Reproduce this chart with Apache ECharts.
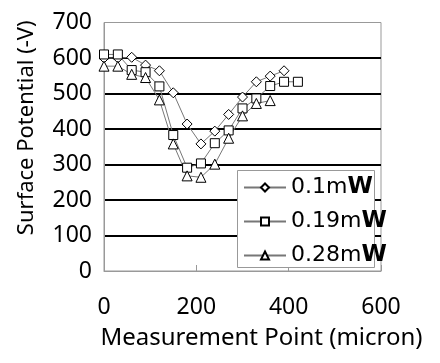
<!DOCTYPE html>
<html>
<head>
<meta charset="utf-8">
<script src="https://cdn.jsdelivr.net/npm/echarts@6/dist/echarts.min.js"></script>
<style>html,body{margin:0;padding:0;background:#fff}#c{width:440px;height:363px}</style>
</head>
<body>
<div id="c"></div>
<script>
var xPoints = [0, 30, 60, 90, 120, 150, 180, 210, 240, 270, 300, 330, 360, 390, 420];
var seriesNames = ['0.1mW', '0.19mW', '0.28mW'];
var vals01 = [600, 600, 602, 580, 564, 502, 414, 358, 394, 441, 490, 533, 549, 564];
var vals019 = [610, 610, 566, 560, 520, 383, 291, 303, 360, 396, 458, 486, 521, 533, 533];
var vals028 = [577, 577, 554, 545, 482, 358, 268, 264, 301, 374, 437, 472, 480];
var xTicks = [0, 200, 400, 600];
var yTicks = [0, 100, 200, 300, 400, 500, 600, 700];

function pairs(v) { return v.map(function (y, i) { return [xPoints[i], y]; }); }
var FONT = 'Noto Sans';
var LFONT = 'DejaVu Sans';
var symbols = ['diamond', 'rect', 'triangle'];
var sizes = [10, 9, 10];
var datas = [vals01, vals019, vals028];

var chart = echarts.init(document.getElementById('c'), null, { renderer: 'canvas' });
chart.setOption({
  animation: false,
  backgroundColor: '#fff',
  grid: { left: 104, right: 59, top: 22.5, bottom: 92, show: true, borderColor: '#999', borderWidth: 1, containLabel: false },
  xAxis: {
    type: 'value', min: xTicks[0], max: xTicks[xTicks.length - 1], interval: 200,
    name: 'Measurement Point (micron)', nameLocation: 'middle', nameGap: 55,
    nameTextStyle: { fontFamily: FONT, fontSize: 24, color: '#000', padding: [0, 0, 0, 38] },
    axisLine: { show: true, lineStyle: { color: '#999', width: 1 } },
    axisTick: { show: true, inside: true, length: 6, lineStyle: { color: '#999' } },
    axisLabel: { fontFamily: FONT, fontSize: 23, color: '#000', margin: 25 },
    splitLine: { show: false }
  },
  yAxis: {
    type: 'value', min: yTicks[0], max: yTicks[yTicks.length - 1], interval: 100,
    name: 'Surface Potential (-V)', nameLocation: 'middle', nameGap: 66,
    nameTextStyle: { fontFamily: FONT, fontSize: 22, color: '#000', padding: [0, 0, 0, 38] },
    axisLine: { show: true, lineStyle: { color: '#999', width: 1 } },
    axisTick: { show: false },
    axisLabel: { fontFamily: FONT, fontSize: 23, color: '#000', margin: 12, padding: [5, 0, 0, 0] },
    splitLine: { show: true, lineStyle: { width: 2, color: ['transparent', '#000', '#000', '#000', '#000', '#000', '#000', 'transparent'] } }
  },
  graphic: [{
    type: 'rect', left: 237, top: 170, z: 3,
    shape: { width: 137, height: 97 },
    style: { fill: '#fff', stroke: '#999', lineWidth: 1 }
  }],
  legend: {
    orient: 'vertical', left: 237, top: 170, z: 5,
    padding: [6, 0, 0, 6], itemGap: 11, itemWidth: 42, itemHeight: 10,
    data: seriesNames,
    formatter: function (n) { return '{a|' + n.slice(0, -1) + '}{w|W}'; },
    textStyle: {
      fontFamily: LFONT, fontSize: 22, color: '#000',
      rich: {
        a: { fontFamily: LFONT, fontSize: 22, color: '#000' },
        w: { fontFamily: LFONT, fontSize: 23, fontWeight: 'bold', color: '#000' }
      }
    }
  },
  series: datas.map(function (d, i) {
    return {
      name: seriesNames[i], type: 'line', data: pairs(d), z: 2,
      symbol: symbols[i], symbolSize: sizes[i], showAllSymbol: true,
      lineStyle: { color: '#777', width: 1 },
      itemStyle: { color: '#fff', borderColor: '#000', borderWidth: 1 },
      emphasis: { disabled: true }
    };
  })
});
</script>
</body>
</html>
